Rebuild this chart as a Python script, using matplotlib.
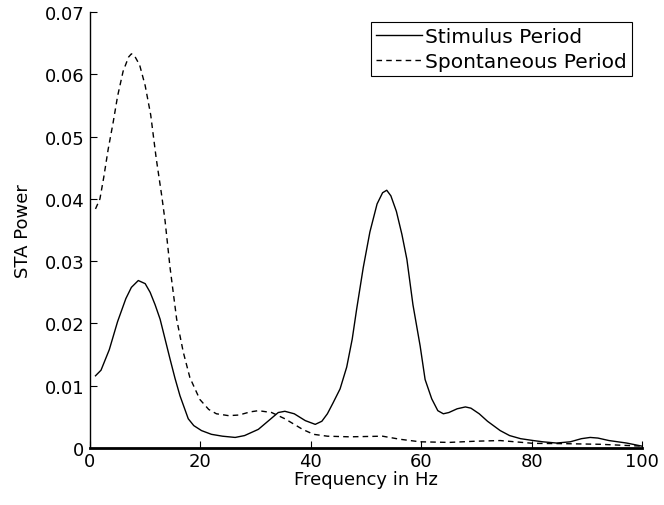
import numpy as np
import matplotlib
matplotlib.use("Agg")
import matplotlib.pyplot as plt

# STA power spectra
stim_freq = [1, 2, 3.5, 5, 6.5, 7.5, 8.75, 10, 10.9, 11.8, 12.7, 13.6, 14.5, 15.4, 16.3,
             17.8, 18.8, 20.2, 22, 24, 26.3, 28, 30.5, 32.5, 34.1, 35.3, 37, 39, 40.8,
             42, 43, 44, 45.3, 46.5, 47.5, 48.3, 49.5, 50.7, 52, 53, 53.75, 54.5, 55.5,
             56.5, 57.4, 58.5, 59.8, 60.7, 61.9, 63, 64, 65, 66.5, 68, 69, 70.5, 72,
             74.3, 76, 78, 80.3, 82, 84.5, 87, 89, 90.6, 92, 94, 97.2, 100]
stim_power = [0.0116, 0.0125, 0.0158, 0.0203, 0.0240, 0.0258, 0.0269, 0.0264, 0.0250,
              0.0230, 0.0207, 0.0175, 0.0143, 0.0112, 0.0084, 0.0047, 0.0036, 0.0028,
              0.0022, 0.0019, 0.0017, 0.0020, 0.0030, 0.0045, 0.0057, 0.0059, 0.0055,
              0.0044, 0.0038, 0.0043, 0.0055, 0.0072, 0.0095, 0.0130, 0.0175, 0.0223,
              0.0290, 0.0347, 0.0392, 0.0410, 0.0414, 0.0405, 0.0380, 0.0343, 0.0303,
              0.0230, 0.0164, 0.0110, 0.0079, 0.0060, 0.0055, 0.0057, 0.0063, 0.0066,
              0.0064, 0.0055, 0.0043, 0.0028, 0.0020, 0.0015, 0.0012, 0.0010, 0.0008,
              0.0010, 0.0015, 0.0017, 0.0016, 0.0012, 0.0008, 0.0003]

spon_freq = [1, 1.8, 2.5, 3.3, 4.2, 5, 6, 7, 7.5, 8, 9, 10, 11, 12, 13, 13.6, 14.5,
             15.7, 16.9, 18.1, 19.9, 21.5, 22.9, 25.1, 27, 29, 30.5, 32.9, 35.3, 37,
             38.5, 40.5, 43, 47, 53, 56.2, 59.8, 65, 70, 74.3, 80.3, 86, 92.4, 100]
spon_power = [0.0384, 0.0400, 0.0435, 0.0480, 0.0523, 0.0565, 0.0605, 0.0628, 0.0633,
              0.0631, 0.0615, 0.0582, 0.0535, 0.0465, 0.0405, 0.0365, 0.0290, 0.0207,
              0.0154, 0.0113, 0.0078, 0.0062, 0.0055, 0.0052, 0.0053, 0.0058, 0.0060,
              0.0057, 0.0047, 0.0038, 0.0030, 0.0022, 0.0019, 0.0018, 0.0019, 0.0014,
              0.0010, 0.0009, 0.0011, 0.0012, 0.00075, 0.0007, 0.0006, 0.0003]

plt.rcParams['font.family'] = ['DejaVu Sans']
fig = plt.figure(figsize=(6.64, 5.06), dpi=100)
ax = fig.add_axes([0.1355, 0.1126, 0.8315, 0.8614])

ax.plot(stim_freq, stim_power, 'k-', lw=1.0, label="Stimulus Period")
ax.plot(spon_freq, spon_power, 'k--', lw=1.0, dashes=(4, 3), label="Spontaneous Period")

ax.set_xlim(0, 100)
ax.set_ylim(0, 0.07)
ax.set_xticks([0, 20, 40, 60, 80, 100])
ax.set_yticks([0, 0.01, 0.02, 0.03, 0.04, 0.05, 0.06, 0.07])
ax.set_yticklabels(["0", "0.01", "0.02", "0.03", "0.04", "0.05", "0.06", "0.07"])
ax.tick_params(direction='in', length=5, labelsize=13, top=False, right=False)
ax.tick_params(axis='x', pad=3)
ax.tick_params(axis='y', pad=4)
ax.spines['top'].set_visible(False)
ax.spines['right'].set_visible(False)
ax.spines['left'].set_linewidth(1.0)
ax.spines['bottom'].set_linewidth(2.0)

ax.set_xlabel("Frequency in Hz", fontsize=13, labelpad=0)
ax.set_ylabel("STA Power", fontsize=13, labelpad=9)

leg = ax.legend(loc='upper right', fontsize=14.5, handlelength=2.3, handletextpad=0.15,
                borderpad=0.25, labelspacing=0.3, fancybox=False, framealpha=1,
                edgecolor='black', borderaxespad=0.5)
leg.get_frame().set_linewidth(0.8)

fig.savefig("out.png", dpi=100)
